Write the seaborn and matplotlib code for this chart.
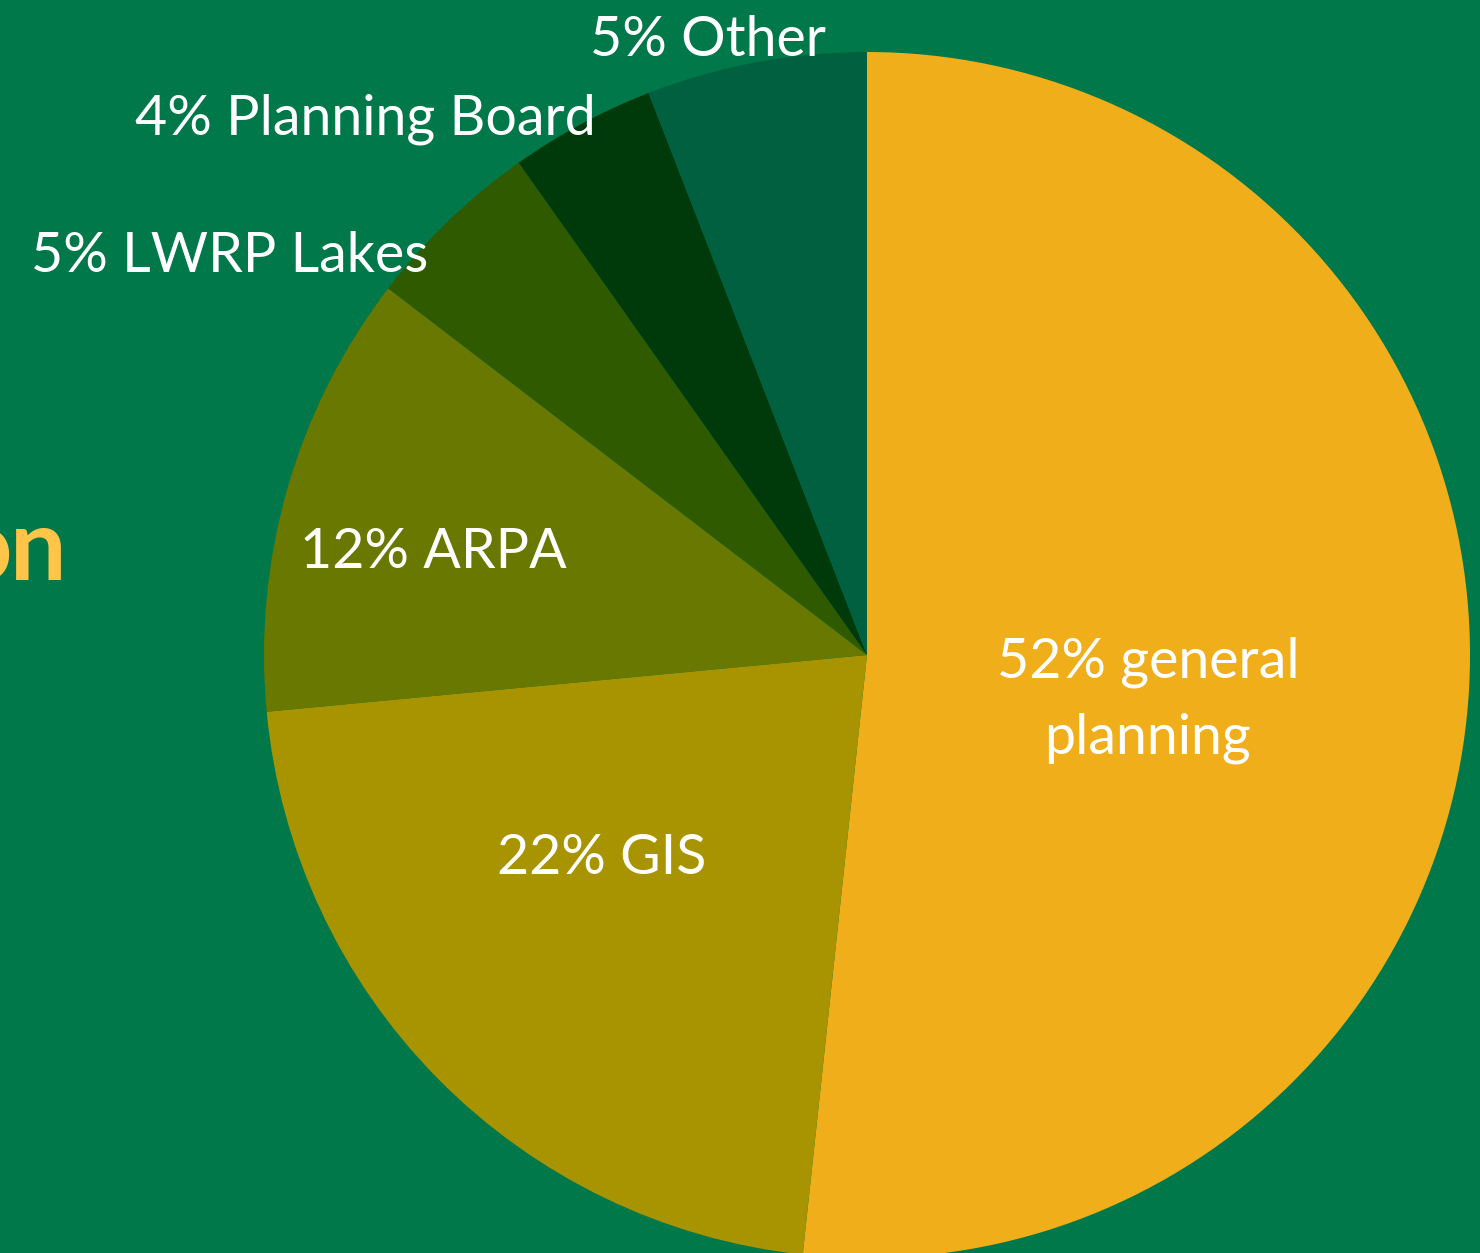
import matplotlib
matplotlib.use("Agg")
import matplotlib.pyplot as plt
import seaborn as sns

# ---- data ----
categories = ["general planning", "GIS", "ARPA", "LWRP Lakes", "Planning Board", "Other"]
shares = [51.7, 21.8, 11.9, 4.8, 3.9, 5.9]
label_texts = ["52% general\nplanning", "22% GIS", "12% ARPA", "5% LWRP Lakes",
               "4% Planning Board", "5% Other"]
slice_colors = ["#F0AE1A", "#A89400", "#687800", "#2F5A00", "#003A0A", "#006040"]

BG = "#00784A"
W, H = 1480, 1253

sns.set_theme(style="white")
plt.rcParams["font.family"] = ["Lato", "DejaVu Sans"]

palette = sns.color_palette(slice_colors)

fig = plt.figure(figsize=(W / 100, H / 100), dpi=100, facecolor=BG)
ax = fig.add_axes([0, 0, 1, 1])
ax.set_facecolor(BG)

cx, cy, r = 867, H - 655, 603
wedges, _ = ax.pie(shares, colors=palette, startangle=90, counterclock=False,
                   center=(cx, cy), radius=r, wedgeprops=dict(linewidth=0))
ax.set_xlim(0, W)
ax.set_ylim(0, H)
ax.set_aspect("equal")
ax.axis("off")

# label positions (pixel coordinates, top-left origin)
label_pos = [(1148, 700), (602, 858), (433, 552), (230, 256), (365, 119), (708, 40)]
for txt, (x, y) in zip(label_texts, label_pos):
    ax.text(x, H - y, txt, ha="center", va="center", color="white",
            fontsize=40, linespacing=1.6)

# partially visible title fragment ("...on") at the left edge
title_style = dict(va="baseline", color="#FFC549", fontsize=72, fontweight="bold",
                   family=["Lato", "DejaVu Sans"])
ax.text(12, H - 580, "o", ha="right", **title_style)
ax.text(66, H - 580, "n", ha="right", **title_style)

fig.savefig("out.png", dpi=100, facecolor=BG)
